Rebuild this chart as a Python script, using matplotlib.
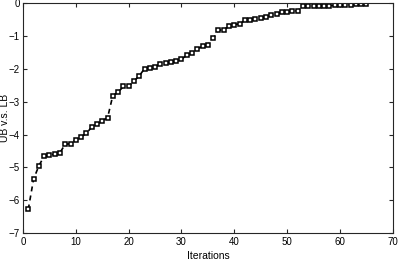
import matplotlib
matplotlib.use("Agg")
import matplotlib.pyplot as plt

plt.rcParams['font.family'] = ['Liberation Sans', 'DejaVu Sans']

iterations = list(range(1, 66))
gap = [-6.28, -5.36, -4.95, -4.66, -4.63, -4.59, -4.55, -4.29, -4.28, -4.15,
       -4.07, -3.96, -3.77, -3.68, -3.57, -3.49, -2.81, -2.71, -2.53, -2.53,
       -2.37, -2.21, -1.99, -1.97, -1.94, -1.84, -1.81, -1.79, -1.77, -1.70,
       -1.58, -1.51, -1.38, -1.31, -1.26, -1.06, -0.82, -0.80, -0.70, -0.65,
       -0.62, -0.52, -0.50, -0.47, -0.44, -0.42, -0.36, -0.31, -0.27, -0.25,
       -0.24, -0.22, -0.08, -0.07, -0.07, -0.07, -0.07, -0.07, -0.06, -0.06,
       -0.05, -0.04, -0.03, -0.03, -0.03]
xticks = [0, 10, 20, 30, 40, 50, 60, 70]
yticks = [-7, -6, -5, -4, -3, -2, -1, 0]

fig = plt.figure(figsize=(3.99, 2.61), dpi=100)
ax = fig.add_axes([0.0576, 0.107, 0.927, 0.880])
ax.plot(iterations, gap, linestyle='--', color='black', linewidth=1.2,
        marker='s', markersize=3.2, markerfacecolor='white',
        markeredgecolor='black', markeredgewidth=1.1, dashes=(3, 2.5))
ax.set_xlim(0, 70)
ax.set_ylim(-7, 0)
ax.set_xticks(xticks)
ax.set_yticks(yticks)
ax.tick_params(direction='in', top=True, right=True, length=3, width=0.8,
               labelsize=7, pad=2.5, colors='#262626', labelcolor='black')
for s in ax.spines.values():
    s.set_linewidth(0.8)
    s.set_color('#262626')
ax.set_xlabel('Iterations', fontsize=7.5, labelpad=3)
ax.set_ylabel('UB v.s. LB', fontsize=7.5)
ax.yaxis.set_label_coords(-0.036, 0.5)
fig.savefig('out.png', dpi=100)
